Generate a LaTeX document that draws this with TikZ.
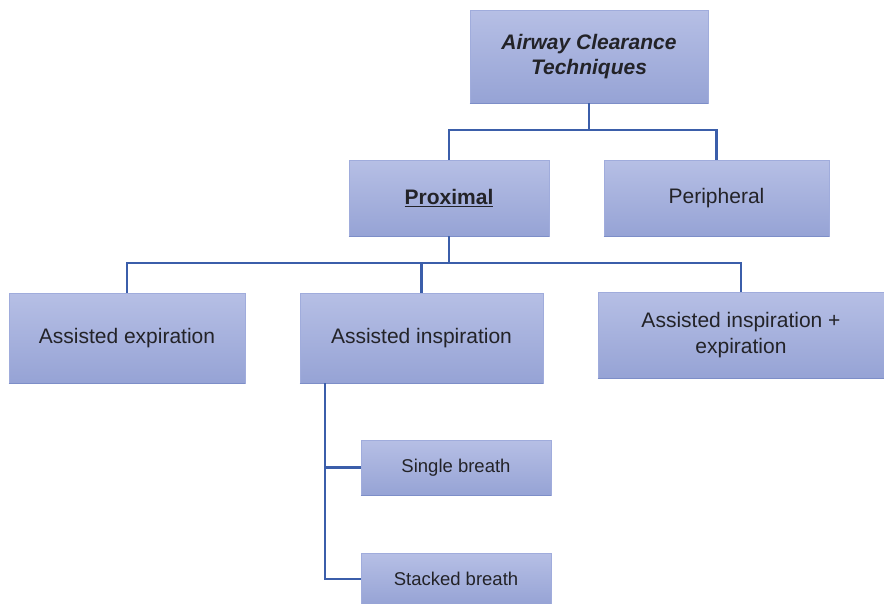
\documentclass[tikz,border=0pt]{standalone}
\usepackage{fontspec}
\setmainfont{Liberation Sans}
\definecolor{boxtop}{RGB}{182,191,229}
\definecolor{boxbot}{RGB}{150,163,213}
\definecolor{boxedge}{RGB}{160,172,220}
\definecolor{boxshadow}{RGB}{125,142,200}
\definecolor{linkc}{RGB}{59,94,170}
\definecolor{txt}{RGB}{35,35,40}
\tikzset{
  box/.style={rectangle, inner sep=0pt, top color=boxtop, bottom color=boxbot,
    draw=boxedge, line width=0.6pt, align=center, text=txt, font=\fontsize{21}{25.5}\selectfont,
    append after command={\pgfextra{\let\mainnode=\tikzlastnode}
      (\mainnode.south west) edge[draw=boxshadow, line width=1.2pt] (\mainnode.south east)}},
  smallbox/.style={box, font=\fontsize{18.5}{22}\selectfont},
  link/.style={draw=linkc, line width=2.6pt, line join=miter}
}
\begin{document}
\begin{tikzpicture}[x=1pt,y=-1pt]
\useasboundingbox (0,0) rectangle (884,603);
\node[box, minimum width=238pt, minimum height=93pt] (top) at (589,56.5)
  {\textbf{\textit{Airway Clearance}}\\\textbf{\textit{Techniques}}};
\node[box, minimum width=200pt, minimum height=76pt] (prox) at (449,198)
  {\textbf{\underline{Proximal}}};
\node[box, minimum width=225pt, minimum height=76pt] (peri) at (716.5,198)
  {Peripheral};
\node[box, minimum width=236pt, minimum height=90pt] (aexp) at (127,338)
  {Assisted expiration};
\node[box, minimum width=243pt, minimum height=90pt] (ains) at (421.5,338)
  {Assisted inspiration};
\node[box, minimum width=286pt, minimum height=86pt] (aboth) at (741,335)
  {Assisted inspiration +\\expiration};
\node[smallbox, minimum width=190pt, minimum height=55pt] (single) at (456,467.5)
  {Single breath};
\node[smallbox, minimum width=190pt, minimum height=52pt] (stacked) at (456,579)
  {Stacked breath};
\coordinate (j1) at (589,130);
\coordinate (j2) at (449,263);
\coordinate (v) at (325,383);
\draw[link] (top.south) -- (j1);
\draw[link] (prox.north) -- (prox.north |- j1) -- (peri.north |- j1) -- (peri.north);
\draw[link] (prox.south) -- (j2);
\draw[link] (aexp.north) -- (aexp.north |- j2) -- (aboth.north |- j2) -- (aboth.north);
\draw[link] (ains.north) -- (ains.north |- j2);
\draw[link] (single.west) -| (v) |- (stacked.west);
\end{tikzpicture}
\end{document}
